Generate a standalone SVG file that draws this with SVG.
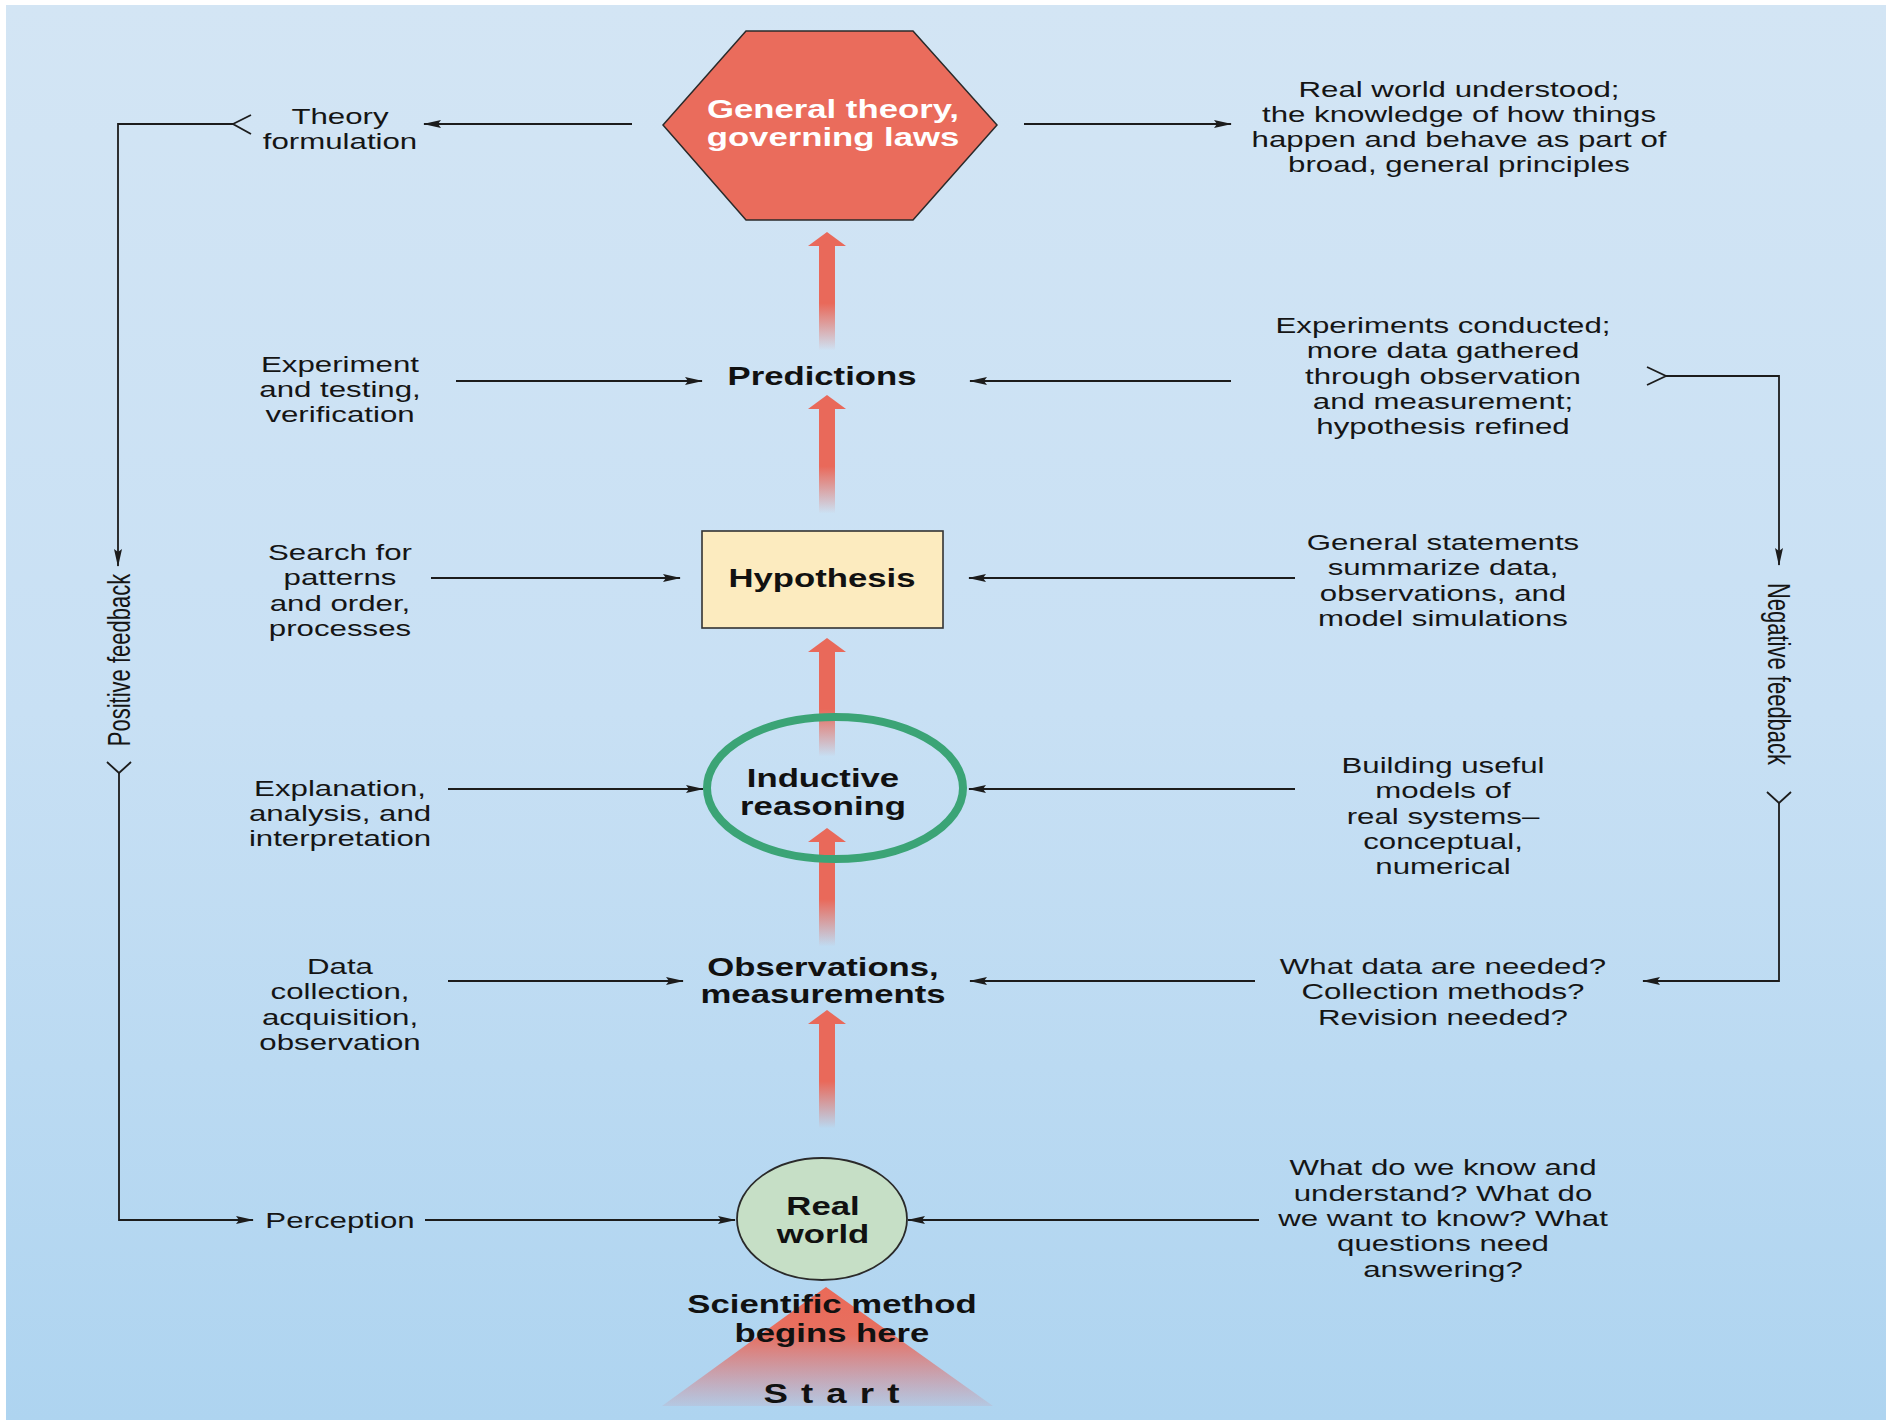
<svg xmlns="http://www.w3.org/2000/svg" width="1889" height="1420" viewBox="0 0 1889 1420">
  <defs>
    <style>
      .r { font-family: "Liberation Sans", Arial, sans-serif; font-size: 22px; fill: #151515; text-anchor: middle; }
      .b { font-family: "Liberation Sans", Arial, sans-serif; font-weight: bold; font-size: 26.5px; fill: #111; text-anchor: middle; }
      .w { fill: #ffffff; }
      .conn { fill: none; stroke: #1c1c1c; stroke-width: 1.8; }
      .chev { fill: none; stroke: #1c1c1c; stroke-width: 1.8; stroke-linejoin: miter; }
    </style>
    <linearGradient id="bg" x1="0" y1="0" x2="0" y2="1">
      <stop offset="0" stop-color="#d3e5f4"/>
      <stop offset="0.5" stop-color="#c8e0f4"/>
      <stop offset="1" stop-color="#aed4f0"/>
    </linearGradient>
    <linearGradient id="shaftFade" x1="0" y1="0" x2="0" y2="1">
      <stop offset="0" stop-color="#e9695a" stop-opacity="1"/>
      <stop offset="0.55" stop-color="#e9695a" stop-opacity="1"/>
      <stop offset="1" stop-color="#e9695a" stop-opacity="0"/>
    </linearGradient>
    <linearGradient id="startFade" x1="0" y1="0" x2="0" y2="1">
      <stop offset="0" stop-color="#ea6a58" stop-opacity="1"/>
      <stop offset="0.4" stop-color="#ea6a58" stop-opacity="0.95"/>
      <stop offset="1" stop-color="#dc6f78" stop-opacity="0.12"/>
    </linearGradient>
    <!-- broad upward arrow, tip at origin -->
    <g id="upArrow">
      <polygon points="0,0 19,14 -19,14" fill="#e9695a"/>
      <rect x="-8" y="13.5" width="16" height="105" fill="url(#shaftFade)"/>
    </g>
    <marker id="head" viewBox="0 0 18 8" refX="17" refY="4" markerWidth="18" markerHeight="8" markerUnits="userSpaceOnUse" orient="auto">
      <path d="M0,0 L18,4 L0,8 L3,4 z" fill="#1c1c1c"/>
    </marker>
  </defs>

  <!-- backdrop -->
  <rect x="0" y="0" width="1889" height="1420" fill="#ffffff"/>
  <rect x="6" y="5" width="1880" height="1415" fill="url(#bg)"/>

  <!-- upward flow arrows between stages -->
  <g id="flow-arrows">
    <use href="#upArrow" x="827" y="232"/>
    <use href="#upArrow" x="827" y="395"/>
    <use href="#upArrow" x="827" y="638"/>
    <use href="#upArrow" x="827" y="828"/>
    <use href="#upArrow" x="827" y="1010"/>
  </g>

  <!-- connectors -->
  <g id="connectors">
    <path class="conn" d="M632,124 H424" marker-end="url(#head)"/>
    <path class="conn" d="M1024,124 H1231" marker-end="url(#head)"/>
    <path class="conn" d="M456,381 H702" marker-end="url(#head)"/>
    <path class="conn" d="M1231,381 H970" marker-end="url(#head)"/>
    <path class="conn" d="M431,578 H680" marker-end="url(#head)"/>
    <path class="conn" d="M1295,578 H969" marker-end="url(#head)"/>
    <path class="conn" d="M448,789 H703" marker-end="url(#head)"/>
    <path class="conn" d="M1295,789 H969" marker-end="url(#head)"/>
    <path class="conn" d="M448,981 H683" marker-end="url(#head)"/>
    <path class="conn" d="M1255,981 H970" marker-end="url(#head)"/>
    <path class="conn" d="M425,1220 H735" marker-end="url(#head)"/>
    <path class="conn" d="M1259,1220 H908" marker-end="url(#head)"/>

    <!-- positive feedback loop -->
    <path class="conn" d="M233,124 H118 V566" marker-end="url(#head)"/>
    <path class="chev" d="M251,115 L233,124 L251,134"/>
    <path class="chev" d="M107,762 L119,773 L131,762"/>
    <path class="conn" d="M119,773 V1220 H253" marker-end="url(#head)"/>

    <!-- negative feedback loop -->
    <path class="conn" d="M1666,376 H1779 V565" marker-end="url(#head)"/>
    <path class="chev" d="M1647,367 L1666,376 L1647,385"/>
    <path class="chev" d="M1767,792 L1779,803 L1791,792"/>
    <path class="conn" d="M1779,803 V981 H1643" marker-end="url(#head)"/>
  </g>

  <!-- stage nodes -->
  <g id="node-theory">
    <polygon points="663,125 746,31 913,31 997,125 913,220 746,220" fill="#ea6c5c" stroke="#2a2a2a" stroke-width="1.5"/>
    <text class="b w" transform="translate(833 0) scale(1.31 1)"><tspan x="0" y="118">General theory,</tspan><tspan x="0" y="146">governing laws</tspan></text>
  </g>

  <g id="node-predictions">
    <text class="b" transform="translate(822 0) scale(1.31 1)"><tspan x="0" y="385">Predictions</tspan></text>
  </g>

  <g id="node-hypothesis">
    <rect x="702" y="531" width="241" height="97" fill="#fcebbf" stroke="#333" stroke-width="1.6"/>
    <text class="b" transform="translate(822 0) scale(1.31 1)"><tspan x="0" y="587">Hypothesis</tspan></text>
  </g>

  <g id="node-inductive">
    <ellipse cx="835" cy="788" rx="128" ry="71" fill="none" stroke="#3ba476" stroke-width="8"/>
    <text class="b" transform="translate(823 0) scale(1.31 1)"><tspan x="0" y="787">Inductive</tspan><tspan x="0" y="815">reasoning</tspan></text>
  </g>

  <g id="node-observations">
    <text class="b" transform="translate(823 0) scale(1.31 1)"><tspan x="0" y="976">Observations,</tspan><tspan x="0" y="1003">measurements</tspan></text>
  </g>

  <g id="node-start">
    <polygon points="826,1287 993,1406 662,1406" fill="url(#startFade)"/>
    <text class="b" transform="translate(832 0) scale(1.31 1)"><tspan x="0" y="1313">Scientific method</tspan><tspan x="0" y="1342">begins here</tspan></text>
    <text class="b" style="font-size:28px; letter-spacing:10px" transform="translate(838 0) scale(1.31 1)"><tspan x="0" y="1403">Start</tspan></text>
  </g>

  <g id="node-real-world">
    <ellipse cx="822" cy="1219" rx="85" ry="61" fill="#c6dfc6" stroke="#2a2a2a" stroke-width="1.8"/>
    <text class="b" transform="translate(823 0) scale(1.31 1)"><tspan x="0" y="1215">Real</tspan><tspan x="0" y="1243">world</tspan></text>
  </g>

  <!-- left-hand process labels -->
  <g id="label-theory-formulation">
    <text class="r" transform="translate(340 0) scale(1.42 1)"><tspan x="0" y="124">Theory</tspan><tspan x="0" y="149">formulation</tspan></text>
  </g>
  <g id="label-experiment">
    <text class="r" transform="translate(340 0) scale(1.42 1)"><tspan x="0" y="372">Experiment</tspan><tspan x="0" y="397">and testing,</tspan><tspan x="0" y="422">verification</tspan></text>
  </g>
  <g id="label-search">
    <text class="r" transform="translate(340 0) scale(1.42 1)"><tspan x="0" y="560">Search for</tspan><tspan x="0" y="585">patterns</tspan><tspan x="0" y="611">and order,</tspan><tspan x="0" y="636">processes</tspan></text>
  </g>
  <g id="label-explanation">
    <text class="r" transform="translate(340 0) scale(1.42 1)"><tspan x="0" y="796">Explanation,</tspan><tspan x="0" y="821">analysis, and</tspan><tspan x="0" y="846">interpretation</tspan></text>
  </g>
  <g id="label-data">
    <text class="r" transform="translate(340 0) scale(1.42 1)"><tspan x="0" y="974">Data</tspan><tspan x="0" y="999">collection,</tspan><tspan x="0" y="1025">acquisition,</tspan><tspan x="0" y="1050">observation</tspan></text>
  </g>
  <g id="label-perception">
    <text class="r" transform="translate(340 0) scale(1.42 1)"><tspan x="0" y="1228">Perception</tspan></text>
  </g>

  <!-- right-hand descriptions -->
  <g id="label-understood">
    <text class="r" transform="translate(1459 0) scale(1.42 1)"><tspan x="0" y="97">Real world understood;</tspan><tspan x="0" y="122">the knowledge of how things</tspan><tspan x="0" y="147">happen and behave as part of</tspan><tspan x="0" y="172">broad, general principles</tspan></text>
  </g>
  <g id="label-experiments">
    <text class="r" transform="translate(1443 0) scale(1.42 1)"><tspan x="0" y="333">Experiments conducted;</tspan><tspan x="0" y="358">more data gathered</tspan><tspan x="0" y="384">through observation</tspan><tspan x="0" y="409">and measurement;</tspan><tspan x="0" y="434">hypothesis refined</tspan></text>
  </g>
  <g id="label-statements">
    <text class="r" transform="translate(1443 0) scale(1.42 1)"><tspan x="0" y="550">General statements</tspan><tspan x="0" y="575">summarize data,</tspan><tspan x="0" y="601">observations, and</tspan><tspan x="0" y="626">model simulations</tspan></text>
  </g>
  <g id="label-models">
    <text class="r" transform="translate(1443 0) scale(1.42 1)"><tspan x="0" y="773">Building useful</tspan><tspan x="0" y="798">models of</tspan><tspan x="0" y="824">real systems–</tspan><tspan x="0" y="849">conceptual,</tspan><tspan x="0" y="874">numerical</tspan></text>
  </g>
  <g id="label-data-needed">
    <text class="r" transform="translate(1443 0) scale(1.42 1)"><tspan x="0" y="974">What data are needed?</tspan><tspan x="0" y="999">Collection methods?</tspan><tspan x="0" y="1025">Revision needed?</tspan></text>
  </g>
  <g id="label-questions">
    <text class="r" transform="translate(1443 0) scale(1.42 1)"><tspan x="0" y="1175">What do we know and</tspan><tspan x="0" y="1201">understand? What do</tspan><tspan x="0" y="1226">we want to know? What</tspan><tspan x="0" y="1251">questions need</tspan><tspan x="0" y="1277">answering?</tspan></text>
  </g>

  <!-- feedback loop captions -->
  <g id="label-positive-feedback">
    <text class="r" transform="translate(130 660) scale(1.42 1) rotate(-90)" x="0" y="0">Positive feedback</text>
  </g>
  <g id="label-negative-feedback">
    <text class="r" transform="translate(1768 674) scale(1.42 1) rotate(90)" x="0" y="0">Negative feedback</text>
  </g>
</svg>
